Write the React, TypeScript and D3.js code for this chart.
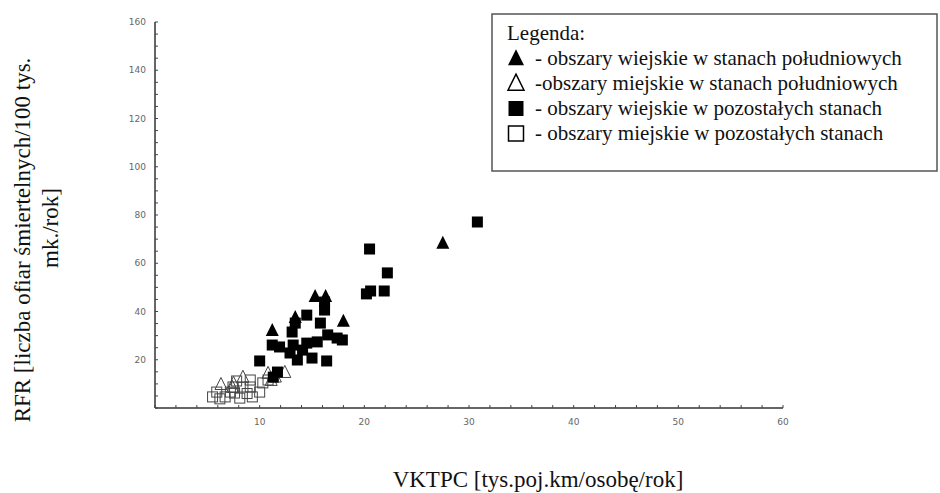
import React from "react";
import * as d3 from "d3";

// [VKTPC, RFR] pairs
const ruralSouth: [number, number][] = [
  [11.2, 32.3], [13.4, 37.7], [15.3, 46.4], [16.3, 46.4], [18.0, 36.1], [27.5, 68.4],
];
const urbanSouth: [number, number][] = [
  [6.3, 9.9], [7.4, 8.7], [7.5, 10.4], [8.4, 12.9], [10.8, 14.5], [11.1, 11.6], [12.4, 14.9], [11.5, 13.0],
];
const ruralOther: [number, number][] = [
  [16.2, 43.9], [16.2, 40.6], [14.5, 38.5], [13.4, 35.2], [15.8, 35.2], [13.1, 31.5],
  [11.2, 26.1], [11.9, 25.3], [13.2, 26.1], [14.5, 26.9], [15.5, 27.4], [16.5, 30.3],
  [17.4, 29.0], [17.9, 28.2], [12.9, 22.8], [14.1, 24.0], [15.0, 20.7], [16.4, 19.5],
  [13.6, 19.9], [10.0, 19.5], [11.7, 14.9], [11.3, 12.8], [20.2, 47.3], [20.6, 48.5],
  [21.9, 48.5], [22.2, 56.0], [20.5, 65.9], [30.8, 77.1],
];
const urbanOther: [number, number][] = [
  [5.5, 4.6], [5.9, 6.6], [6.7, 4.6], [7.2, 6.6], [7.45, 8.7], [7.6, 6.2], [8.4, 8.7],
  [8.1, 4.1], [9.1, 8.7], [9.3, 4.6], [10.0, 6.6], [10.3, 10.4], [10.8, 11.6], [9.1, 11.6],
  [6.2, 3.8], [8.8, 6.0], [7.8, 11.2],
];

const xLabels = [10, 20, 30, 40, 50, 60];
const yLabels = [20, 40, 60, 80, 100, 120, 140, 160];
const legendItems = [
  { shape: "tri", filled: true, text: "- obszary wiejskie w stanach południowych" },
  { shape: "tri", filled: false, text: "-obszary miejskie w stanach południowych" },
  { shape: "sq", filled: true, text: "- obszary wiejskie w pozostałych stanach" },
  { shape: "sq", filled: false, text: "- obszary miejskie w pozostałych stanach" },
];

const x = d3.scaleLinear().domain([0, 60]).range([155, 783]);
const y = d3.scaleLinear().domain([0, 160]).range([408, 22]);

const tri = (cx: number, cy: number, s: number) =>
  `M${cx},${cy - s * 0.55} L${cx + s / 2},${cy + s * 0.45} L${cx - s / 2},${cy + s * 0.45} Z`;

export default function App() {
  const xMinor = d3.range(0, 61, 2);
  const yMinor = d3.range(0, 161, 5);
  const serif = "'Liberation Serif', 'Times New Roman', serif";
  const sans = "'DejaVu Sans', sans-serif";
  return (
    <svg width={940} height={493} style={{ position: "absolute", left: 0, top: 0, background: "#fff" }}>
      {/* axes */}
      <line x1={x(0)} x2={x(0)} y1={y(160)} y2={y(0)} stroke="#333" strokeWidth={1.5} />
      <line x1={x(0)} x2={x(60)} y1={y(0)} y2={y(0)} stroke="#333" strokeWidth={1.5} />
      {yMinor.map((v) => (
        <line key={"ym" + v} x1={x(0)} x2={x(0) + 3} y1={y(v)} y2={y(v)} stroke="#444" strokeWidth={1} />
      ))}
      {xMinor.map((v) => (
        <line key={"xm" + v} x1={x(v)} x2={x(v)} y1={y(0)} y2={y(0) - 3} stroke="#444" strokeWidth={1} />
      ))}
      {yLabels.map((v) => (
        <text key={"yl" + v} x={x(0) - 9} y={y(v)} dy="0.35em" textAnchor="end" fontFamily={sans} fontSize={9} fill="#666">
          {v}
        </text>
      ))}
      {xLabels.map((v) => (
        <text key={"xl" + v} x={x(v)} y={y(0) + 17} textAnchor="middle" fontFamily={sans} fontSize={9} fill="#666">
          {v}
        </text>
      ))}

      {/* open markers first */}
      {urbanOther.map(([a, b], i) => (
        <rect key={"uo" + i} x={x(a) - 5} y={y(b) - 5} width={10} height={10} fill="none" stroke="#444" strokeWidth={1} />
      ))}
      {urbanSouth.map(([a, b], i) => (
        <path key={"us" + i} d={tri(x(a), y(b), 12)} fill="none" stroke="#444" strokeWidth={1} />
      ))}
      {ruralOther.map(([a, b], i) => (
        <rect key={"ro" + i} x={x(a) - 5.5} y={y(b) - 5.5} width={11} height={11} fill="#000" />
      ))}
      {ruralSouth.map(([a, b], i) => (
        <path key={"rs" + i} d={tri(x(a), y(b), 13)} fill="#000" />
      ))}

      {/* legend */}
      <rect x={492} y={14} width={445} height={157} fill="#fff" stroke="#555" strokeWidth={1.5} />
      <text x={507} y={40} fontFamily={serif} fontSize={21} fill="#111">Legenda:</text>
      {legendItems.map((it, i) => {
        const by = 65 + i * 25;
        const cx = 516;
        const cy = by - 7;
        return (
          <g key={"lg" + i}>
            {it.shape === "tri" ? (
              <path d={tri(cx, cy, 16)} fill={it.filled ? "#000" : "#fff"} stroke="#000" strokeWidth={it.filled ? 0 : 1.5} />
            ) : (
              <rect x={cx - 7.5} y={cy - 7} width={15} height={15} fill={it.filled ? "#000" : "#fff"} stroke="#000" strokeWidth={it.filled ? 0 : 1.5} />
            )}
            <text x={535} y={by} fontFamily={serif} fontSize={21} fill="#111">{it.text}</text>
          </g>
        );
      })}

      {/* axis titles */}
      <text x={538} y={487} textAnchor="middle" fontFamily={serif} fontSize={23} fill="#111">
        VKTPC [tys.poj.km/osobę/rok]
      </text>
      <text transform="translate(30,240) rotate(-90)" textAnchor="middle" fontFamily={serif} fontSize={23} fill="#111">
        RFR [liczba ofiar śmiertelnych/100 tys.
      </text>
      <text transform="translate(58,228) rotate(-90)" textAnchor="middle" fontFamily={serif} fontSize={23} fill="#111">
        mk./rok]
      </text>
    </svg>
  );
}
